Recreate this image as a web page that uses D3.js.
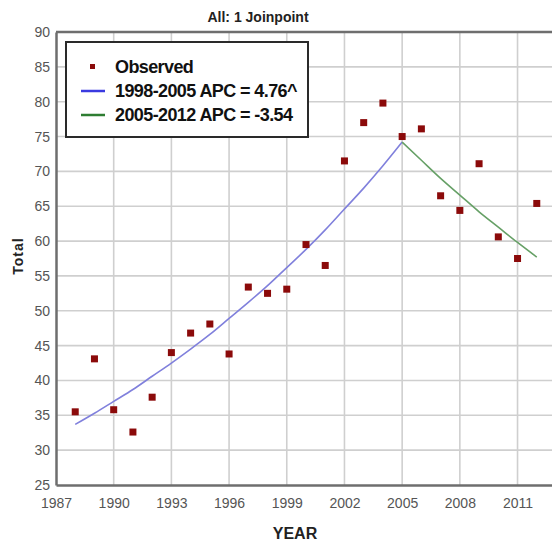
<!DOCTYPE html>
<html>
<head>
<meta charset="utf-8">
<script src="https://cdn.jsdelivr.net/npm/d3@7"></script>
<style>
  body { margin: 0; background: #fff; }
  svg { display: block; }
  .tick-label { font-family: 'Liberation Sans', Arial, sans-serif; font-size: 14px; fill: #555; }
</style>
</head>
<body>
<svg width="552" height="541"></svg>
<script>
const years = [1988, 1989, 1990, 1991, 1992, 1993, 1994, 1995, 1996, 1997, 1998, 1999,
  2000, 2001, 2002, 2003, 2004, 2005, 2006, 2007, 2008, 2009, 2010, 2011, 2012];
const observed = [35.5, 43.1, 35.8, 32.6, 37.6, 44.0, 46.8, 48.1, 43.8, 53.4, 52.5, 53.1,
  59.5, 56.5, 71.5, 77.0, 79.8, 75.0, 76.1, 66.5, 64.4, 71.1, 60.6, 57.5, 65.4];
const seg1Years = [1988, 1989, 1990, 1991, 1992, 1993, 1994, 1995, 1996, 1997, 1998, 1999,
  2000, 2001, 2002, 2003, 2004, 2005];
const seg1Fit = [33.7, 35.3, 37.0, 38.7, 40.6, 42.5, 44.5, 46.6, 48.9, 51.2, 53.6, 56.2,
  58.8, 61.6, 64.6, 67.6, 70.8, 74.2];
const seg2Years = [2005, 2006, 2007, 2008, 2009, 2010, 2011, 2012];
const seg2Fit = [74.2, 71.6, 69.0, 66.6, 64.2, 62.0, 59.8, 57.7];
const xTicks = [1987, 1990, 1993, 1996, 1999, 2002, 2005, 2008, 2011];
const yTicks = [25, 30, 35, 40, 45, 50, 55, 60, 65, 70, 75, 80, 85, 90];
const legendLabels = ['Observed', '1998-2005 APC = 4.76^', '2005-2012 APC = -3.54'];

const margin = { top: 32, right: -4, bottom: 56, left: 56 };
const W = 552;
const H = 541;
const width = W - margin.left - margin.right;
const height = H - margin.top - margin.bottom;

const x = d3.scaleLinear().domain([1987, 2013]).range([0, width]);
const y = d3.scaleLinear().domain([25, 90]).range([height, 0]);

const svg = d3.select('svg');
const g = svg.append('g')
  .attr('transform', `translate(${margin.left}, ${margin.top})`);

// grid
g.append('g')
  .selectAll('line')
  .data(xTicks.slice(1))
  .enter().append('line')
  .attr('x1', d => x(d)).attr('x2', d => x(d))
  .attr('y1', 0).attr('y2', height)
  .attr('stroke', '#cfcfcf')
  .attr('stroke-width', 1.6);

g.append('g')
  .selectAll('line')
  .data(yTicks.slice(1, -1))
  .enter().append('line')
  .attr('x1', 0).attr('x2', width)
  .attr('y1', d => y(d)).attr('y2', d => y(d))
  .attr('stroke', '#cfcfcf')
  .attr('stroke-width', 1.6);

// axes
const xAxis = g.append('g')
  .attr('transform', `translate(0, ${height})`)
  .call(d3.axisBottom(x).tickValues(xTicks).tickFormat(d3.format('d')).tickSize(0).tickPadding(13));
const yAxis = g.append('g')
  .call(d3.axisLeft(y).tickValues(yTicks).tickSize(0).tickPadding(6));
[xAxis, yAxis].forEach(a => {
  a.select('.domain').attr('stroke', '#6e6e6e').attr('stroke-width', 2.5);
  a.selectAll('text').attr('class', 'tick-label');
});

g.append('line')
  .attr('x1', 0).attr('x2', width)
  .attr('y1', 0).attr('y2', 0)
  .attr('stroke', '#6e6e6e')
  .attr('stroke-width', 2.5);

// fitted segments
const line = d3.line().x(d => x(d[0])).y(d => y(d[1])).curve(d3.curveMonotoneX);
g.append('path')
  .datum(d3.zip(seg1Years, seg1Fit))
  .attr('d', line)
  .attr('fill', 'none')
  .attr('stroke', '#8080dc')
  .attr('stroke-width', 1.6);
g.append('path')
  .datum(d3.zip(seg2Years, seg2Fit))
  .attr('d', line)
  .attr('fill', 'none')
  .attr('stroke', '#66a066')
  .attr('stroke-width', 1.6);

// observed
const sq = 7;
g.selectAll('.obs')
  .data(d3.zip(years, observed))
  .enter().append('rect')
  .attr('class', 'obs')
  .attr('x', d => x(d[0]) - sq / 2)
  .attr('y', d => y(d[1]) - sq / 2)
  .attr('width', sq)
  .attr('height', sq)
  .attr('fill', '#8b0a0a');

// legend
const legend = svg.append('g').attr('transform', 'translate(66, 42)');
legend.append('rect')
  .attr('width', 242)
  .attr('height', 95)
  .attr('fill', '#fff')
  .attr('stroke', '#2a2a2a')
  .attr('stroke-width', 2);
legend.append('rect')
  .attr('x', 24).attr('y', 22)
  .attr('width', 5).attr('height', 5)
  .attr('fill', '#8b0a0a');
const legendColors = ['#3a3ae0', '#2e7d32'];
legendColors.forEach((c, i) => {
  legend.append('line')
    .attr('x1', 15).attr('x2', 39)
    .attr('y1', 49 + i * 24).attr('y2', 49 + i * 24)
    .attr('stroke', c)
    .attr('stroke-width', 2.5);
});
legend.selectAll('.leg-text')
  .data(legendLabels)
  .enter().append('text')
  .attr('class', 'leg-text')
  .attr('x', 49)
  .attr('y', (d, i) => 25 + i * 24)
  .attr('dy', '0.36em')
  .attr('font-family', "'Liberation Sans', Arial, sans-serif")
  .attr('font-weight', 'bold')
  .attr('font-size', '18px')
  .attr('letter-spacing', '-0.6px')
  .attr('fill', '#111')
  .text(d => d);

// titles
svg.append('text')
  .attr('x', 258)
  .attr('y', 22)
  .attr('text-anchor', 'middle')
  .attr('font-family', "'Liberation Sans', Arial, sans-serif")
  .attr('font-weight', 'bold')
  .attr('font-size', '14px')
  .attr('fill', '#222')
  .text('All: 1 Joinpoint');

svg.append('text')
  .attr('x', 295)
  .attr('y', 539)
  .attr('text-anchor', 'middle')
  .attr('font-family', "'Liberation Sans', Arial, sans-serif")
  .attr('font-weight', 'bold')
  .attr('font-size', '16px')
  .attr('fill', '#222')
  .text('YEAR');

svg.append('text')
  .attr('transform', 'translate(23, 256) rotate(-90)')
  .attr('text-anchor', 'middle')
  .attr('font-family', "'Liberation Sans', Arial, sans-serif")
  .attr('font-weight', 'bold')
  .attr('font-size', '14px')
  .attr('letter-spacing', '1px')
  .attr('fill', '#222')
  .text('Total');
</script>
</body>
</html>
